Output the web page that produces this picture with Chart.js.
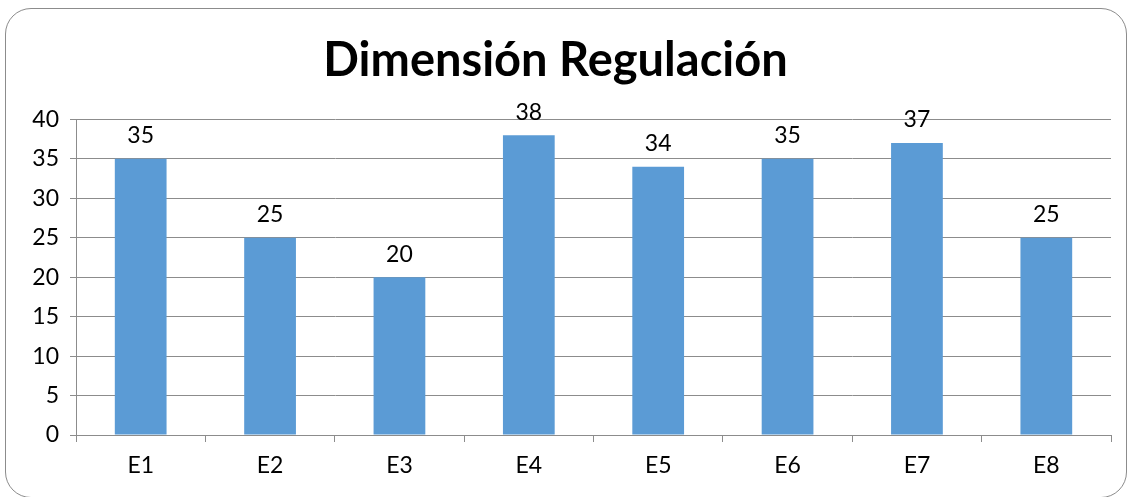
<!DOCTYPE html>
<html>
<head>
<meta charset="utf-8">
<script src="https://cdn.jsdelivr.net/npm/chart.js@4.4.1/dist/chart.umd.min.js"></script>
<style>
  html, body { margin: 0; padding: 0; background: #fff; }
  body { width: 1131px; height: 497px; position: relative; overflow: hidden; }
  #frame {
    position: absolute; left: 5px; top: 8px; width: 1122px; height: 490px;
    border: 1.5px solid #8c8c8c; border-radius: 26px; box-sizing: border-box;
  }
  #wrap { position: absolute; left: 0; top: 0; width: 1131px; height: 497px; }
</style>
</head>
<body>
<div id="frame"></div>
<div id="wrap"><canvas id="chart"></canvas></div>
<script>
  // Series: puntajes por estudiante en la dimensión Regulación
  const categories = ['E1', 'E2', 'E3', 'E4', 'E5', 'E6', 'E7', 'E8'];
  const values = [35, 25, 20, 38, 34, 35, 37, 25];
  const yTicks = [0, 5, 10, 15, 20, 25, 30, 35, 40];

  const FONT = 'Lato, "Noto Sans", sans-serif';
  const GRID = '#8c8c8c';
  const TEXT_SIZE = 23;

  // Value labels above each bar
  const barValueLabels = {
    id: 'barValueLabels',
    afterDatasetsDraw(chart) {
      const { ctx } = chart;
      const meta = chart.getDatasetMeta(0);
      ctx.save();
      ctx.font = `${TEXT_SIZE}px ${FONT}`;
      ctx.fillStyle = '#000';
      ctx.textAlign = 'center';
      ctx.textBaseline = 'middle';
      meta.data.forEach((bar, i) => {
        ctx.fillText(String(values[i]), bar.x, bar.y - 23);
      });
      ctx.restore();
    },
  };

  new Chart(document.getElementById('chart'), {
    type: 'bar',
    data: {
      labels: categories,
      datasets: [{
        data: values,
        backgroundColor: '#5b9bd5',
        borderWidth: 0,
        barPercentage: 0.4,
        categoryPercentage: 1,
      }],
    },
    options: {
      responsive: true,
      maintainAspectRatio: false,
      animation: false,
      layout: { padding: { left: 0, right: 20, top: 0, bottom: 0 } },
      plugins: {
        legend: { display: false },
        tooltip: { enabled: false },
        title: {
          display: true,
          text: 'Dimensión Regulación',
          color: '#000',
          font: { family: FONT, size: 47, weight: 'bold', lineHeight: 1.2 },
          padding: { top: 33, bottom: 30 },
        },
      },
      scales: {
        x: {
          offset: true,
          grid: {
            offset: true,
            drawOnChartArea: false,
            drawTicks: true,
            tickLength: 7,
            color: GRID,
          },
          border: { color: GRID, width: 1 },
          ticks: { color: '#000', font: { family: FONT, size: TEXT_SIZE }, padding: 10 },
          afterFit(scale) { scale.height = 62; },
        },
        y: {
          min: 0,
          max: 40,
          afterBuildTicks(scale) { scale.ticks = yTicks.map((v) => ({ value: v })); },
          grid: { color: GRID, tickLength: 6, lineWidth: 1 },
          border: { color: GRID, width: 1 },
          ticks: { color: '#000', font: { family: FONT, size: TEXT_SIZE }, padding: 11 },
          afterFit(scale) { scale.width = 76; },
        },
      },
    },
    plugins: [barValueLabels],
  });
</script>
</body>
</html>
